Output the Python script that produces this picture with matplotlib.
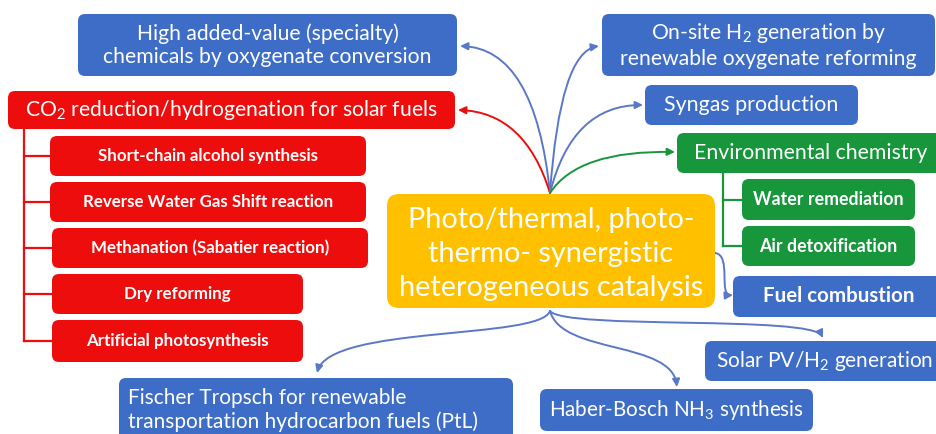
import matplotlib
matplotlib.use("Agg")
import matplotlib.pyplot as plt
from matplotlib.patches import FancyBboxPatch, FancyArrowPatch
from matplotlib.path import Path

plt.rcParams['font.family'] = ['Lato', 'DejaVu Sans']
plt.rcParams['mathtext.fontset'] = 'custom'
plt.rcParams['mathtext.rm'] = 'Lato'
plt.rcParams['mathtext.it'] = 'Lato'
plt.rcParams['mathtext.bf'] = 'Lato:bold'

# colours
BLUE = '#3d6dc6'
RED = '#ee0d0d'
GREEN = '#18963c'
GOLD = '#ffc000'
ARROW_BLUE = '#5a78c8'

# node labels
center_label = "Photo/thermal, photo-\nthermo- synergistic\nheterogeneous catalysis"
left_blue = "High added-value (specialty)\nchemicals by oxygenate conversion"
co2_label = r"CO$_2$ reduction/hydrogenation for solar fuels"
co2_children = ["Short-chain alcohol synthesis", "Reverse Water Gas Shift reaction",
                "Methanation (Sabatier reaction)", "Dry reforming", "Artificial photosynthesis"]
right_blue = [r"On-site H$_2$ generation by" + "\nrenewable oxygenate reforming",
              "Syngas production"]
env_label = "Environmental chemistry"
env_children = ["Water remediation", "Air detoxification"]
fuel_label = "Fuel combustion"
bottom_labels = [r"Solar PV/H$_2$ generation", r"Haber-Bosch NH$_3$ synthesis",
                 "Fischer Tropsch for renewable\ntransportation hydrocarbon fuels (PtL)"]

# layout (pixel boxes: x0, y0, x1, y1)
co2_child_boxes = [(50, 136, 366, 176), (50, 182, 366, 222), (52, 228, 368, 268),
                   (52, 274, 303, 314), (52, 320, 303, 362)]
env_child_boxes = [(742, 179, 915, 220), (742, 226, 915, 266)]

fig = plt.figure(figsize=(9.37, 4.34), dpi=100)
ax = fig.add_axes([0, 0, 1, 1])
ax.set_xlim(0, 937)
ax.set_ylim(434, 0)
ax.axis('off')


def box(x0, y0, x1, y1, color, text, size, weight='normal', ha='center', ls=1.2, r=7, dy=0):
    ax.add_patch(FancyBboxPatch((x0, y0), x1 - x0, y1 - y0,
                                boxstyle=f"round,pad=0,rounding_size={r}",
                                facecolor=color, edgecolor='none', zorder=2))
    tx = (x0 + x1) / 2 if ha == 'center' else x0 + 10
    ax.text(tx, (y0 + y1) / 2 + dy, text, color='white', fontsize=size, weight=weight,
            ha=ha, va='center', linespacing=ls, zorder=3, multialignment=ha)


def curve(pts, color):
    if len(pts) == 3:
        codes = [Path.MOVETO] + [Path.CURVE3] * 2
    else:
        codes = [Path.MOVETO] + [Path.CURVE4] * 3
    arr = FancyArrowPatch(path=Path(pts, codes), arrowstyle='-|>,head_length=4.5,head_width=2.2',
                          color=color, lw=1.4, zorder=1)
    ax.add_patch(arr)


# tree connectors
ax.plot([24, 24], [129, 341], color=RED, lw=1.6, zorder=1)
for b in co2_child_boxes:
    ax.plot([24, b[0]], [(b[1] + b[3]) / 2] * 2, color=RED, lw=1.6, zorder=1)
ax.plot([723, 723], [173, 246], color=GREEN, lw=1.6, zorder=1)
for b in env_child_boxes:
    ax.plot([723, b[0]], [(b[1] + b[3]) / 2] * 2, color=GREEN, lw=1.6, zorder=1)

# arrows from the central node
top = (550, 193)
bot = (550, 311)
curve([top, (535, 48), (460, 46)], ARROW_BLUE)
curve([top, (525, 112), (458, 110)], RED)
curve([top, (560, 52), (599, 46)], ARROW_BLUE)
curve([top, (572, 105), (643, 105)], ARROW_BLUE)
curve([top, (578, 150), (675, 152)], GREEN)
curve([bot, (540, 340), (330, 325), (317, 373)], ARROW_BLUE)
curve([bot, (562, 355), (672, 340), (677, 387)], ARROW_BLUE)
curve([bot, (565, 330), (812, 315), (823, 338)], ARROW_BLUE)
curve([(715, 253), (732, 255), (718, 296), (733, 295)], ARROW_BLUE)

# boxes
box(387, 194, 715, 308, GOLD, center_label, 20.8, ls=1.38, r=12, dy=3)
box(78, 14, 457, 76, BLUE, left_blue, 15.2, ls=1.2)
box(8, 91, 455, 129, RED, co2_label, 15.2)
for b, lab in zip(co2_child_boxes, co2_children):
    box(*b, RED, lab, 12.2, weight='bold')
box(602, 14, 935, 76, BLUE, right_blue[0], 15.2, ls=1.2)
box(645, 85, 858, 125, BLUE, right_blue[1], 15.4)
box(677, 133, 945, 173, GREEN, env_label, 15.3)
for b, lab in zip(env_child_boxes, env_children):
    box(*b, GREEN, lab, 12.8, weight='bold')
box(733, 276, 945, 317, BLUE, fuel_label, 14.8, weight='bold')
box(705, 341, 945, 381, BLUE, bottom_labels[0], 15)
box(540, 389, 813, 431, BLUE, bottom_labels[1], 14.9)
box(119, 378, 513, 450, BLUE, "", 15)
ax.text(128, 410, bottom_labels[2], color='white', fontsize=15, ha='left', va='center',
        linespacing=1.25, zorder=3)

fig.savefig('out.png', dpi=100)
